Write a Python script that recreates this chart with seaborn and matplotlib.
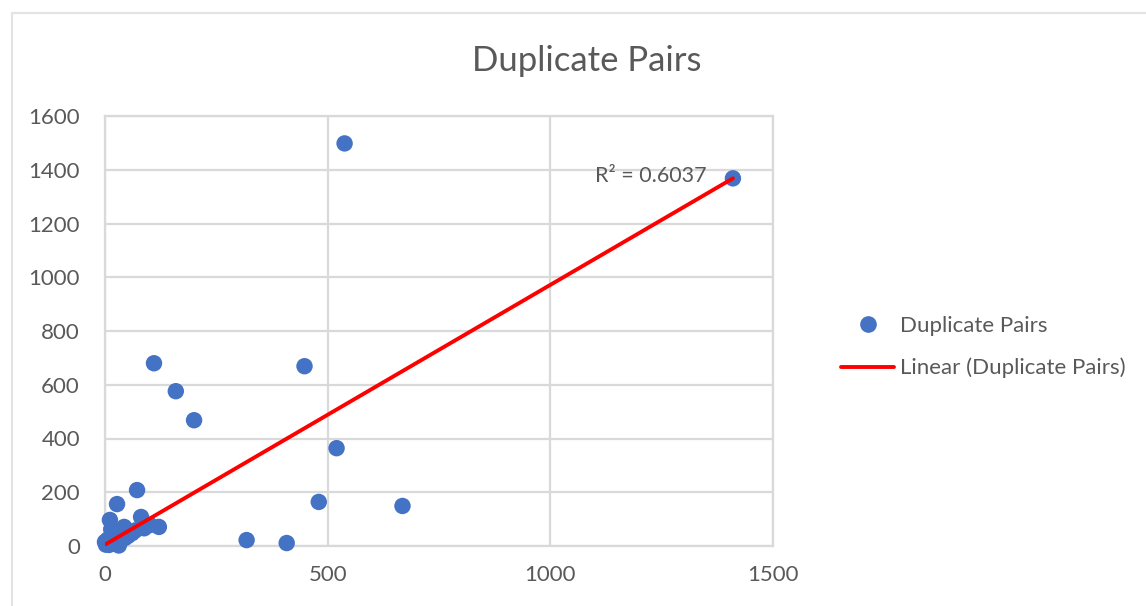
import numpy as np
import pandas as pd
import matplotlib
matplotlib.use("Agg")
import matplotlib.pyplot as plt
import seaborn as sns
from matplotlib.lines import Line2D

# Observed duplicate-pair counts
x_vals = [1410, 538, 110, 159, 200, 448, 520, 480, 668, 318, 408,
          72, 27, 11, 81, 121, 101, 43, 61, 0, 22, 45, 2, 31,
          9, 16, 36, 52, 68, 88, 14, 6]
y_vals = [1368, 1498, 680, 576, 468, 669, 364, 164, 149, 22, 11,
          208, 156, 97, 108, 71, 78, 71, 48, 15, 15, 30, 5, 2,
          4, 10, 22, 38, 58, 66, 62, 24]

# Linear trendline end points (spreadsheet fit over the full data set)
trend_x = [0, 1410]
trend_y = [5, 1368]

x_ticks = [0, 500, 1000, 1500]
y_ticks = [0, 200, 400, 600, 800, 1000, 1200, 1400, 1600]
r2_label = "R² = 0.6037"
title = "Duplicate Pairs"
series_name = "Duplicate Pairs"
trend_name = "Linear (Duplicate Pairs)"

df = pd.DataFrame({"x": x_vals, "y": y_vals})
trend = pd.DataFrame({"x": trend_x, "y": trend_y})

sns.set_theme(style="white")
plt.rcParams["font.family"] = ["Lato", "DejaVu Sans"]

W, H = 1146, 606
fig = plt.figure(figsize=(W / 100, H / 100), dpi=100)
ax = fig.add_axes([105 / W, 1 - 546 / H, (773 - 105) / W, (546 - 116) / H])

grid_c = "#D9D9D9"
text_c = "#595959"
blue = "#4472C4"

sns.scatterplot(data=df, x="x", y="y", ax=ax, color=blue, s=140,
                edgecolor="none", zorder=3, clip_on=False)
sns.lineplot(data=trend, x="x", y="y", ax=ax, color="#FF0000",
             linewidth=2.8, zorder=4)

ax.set_xlim(x_ticks[0], x_ticks[-1])
ax.set_ylim(y_ticks[0], y_ticks[-1])
ax.set_xticks(x_ticks)
ax.set_yticks(y_ticks)
ax.grid(True, color=grid_c, linewidth=1.6)
ax.set_axisbelow(True)
for s in ax.spines.values():
    s.set_color(grid_c)
    s.set_linewidth(1.6)
ax.tick_params(axis="both", length=0, labelsize=16, labelcolor=text_c)
ax.tick_params(axis="x", pad=14)
ax.tick_params(axis="y", pad=18)
ax.set_xlabel("")
ax.set_ylabel("")

ax.text(1352, 1375, r2_label, ha="right", va="center", fontsize=15.5,
        color=text_c)

fig.text(587 / W, 1 - 61 / H, title, ha="center", va="center",
         fontsize=25, color=text_c)

handles = [
    Line2D([], [], marker="o", linestyle="none", markersize=12,
           markerfacecolor=blue, markeredgecolor="none"),
    Line2D([], [], color="#FF0000", linewidth=2.8),
]
leg = fig.legend(handles, [series_name, trend_name], loc="center left",
                 bbox_to_anchor=(821 / W, 1 - 347 / H), frameon=False,
                 fontsize=16, labelcolor=text_c, handlelength=2.4,
                 handletextpad=0.25, labelspacing=1.0)

# Outer chart frame
fig.add_artist(Line2D([12 / W, 12 / W], [0, 1 - 13 / H],
                      transform=fig.transFigure, color="#E3E3E3", lw=1.5))
fig.add_artist(Line2D([12 / W, 1], [1 - 13 / H, 1 - 13 / H],
                      transform=fig.transFigure, color="#E3E3E3", lw=1.5))

fig.savefig("out.png", dpi=100, facecolor="white")
